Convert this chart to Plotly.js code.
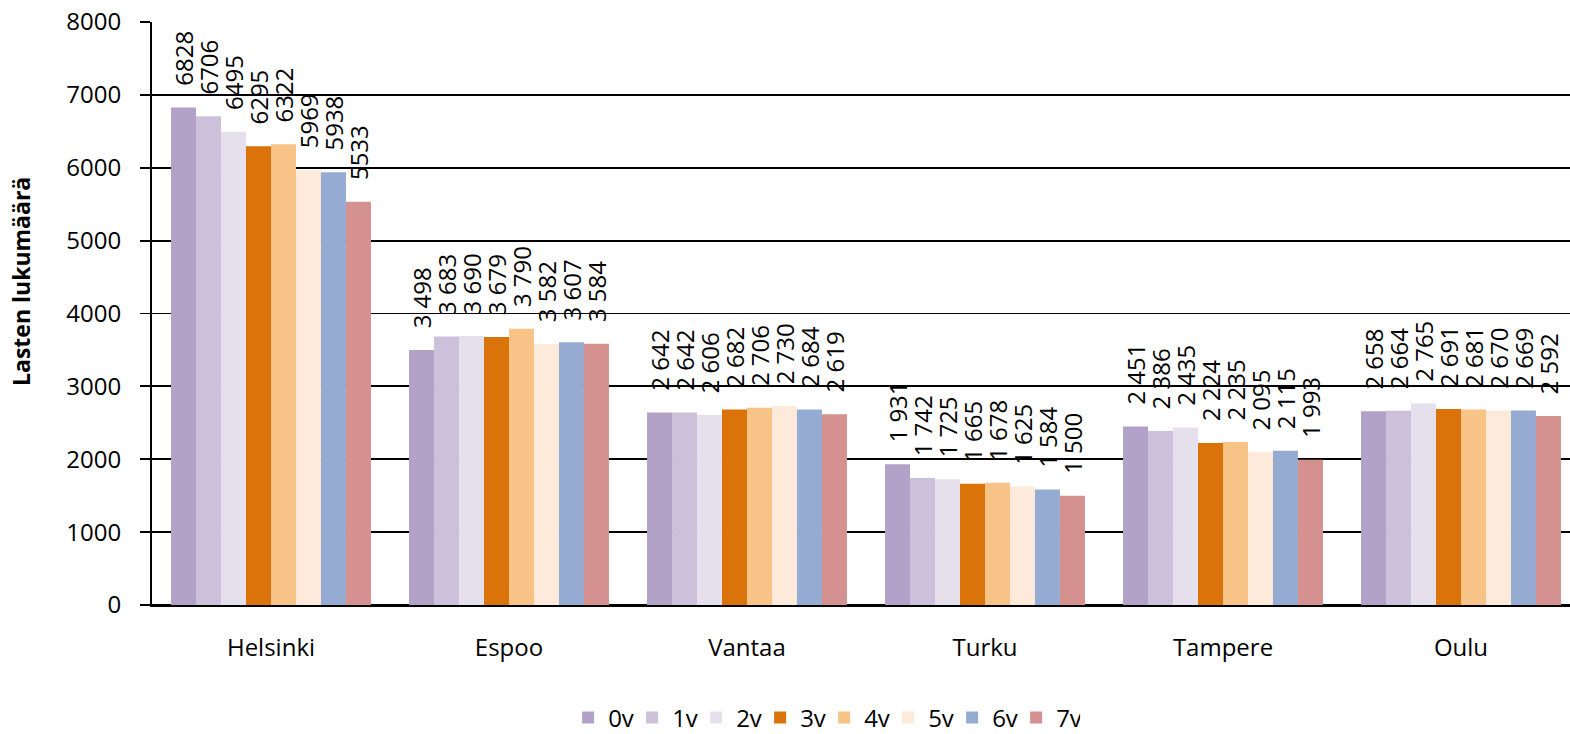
<!DOCTYPE html>
<html>
<head>
<meta charset="utf-8">
<script src="https://cdn.plot.ly/plotly-3.0.1.min.js"></script>
<style>html,body{margin:0;padding:0;background:#fff;}#chart{width:1570px;height:734px;}</style>
</head>
<body>
<div id="chart"></div>
<script>
const cities = ["Helsinki", "Espoo", "Vantaa", "Turku", "Tampere", "Oulu"];
const seriesNames = ["0v", "1v", "2v", "3v", "4v", "5v", "6v", "7v"];
const v0 = [6828, 3498, 2642, 1931, 2451, 2658];
const v1 = [6706, 3683, 2642, 1742, 2386, 2664];
const v2 = [6495, 3690, 2606, 1725, 2435, 2765];
const v3 = [6295, 3679, 2682, 1665, 2224, 2691];
const v4 = [6322, 3790, 2706, 1678, 2235, 2681];
const v5 = [5969, 3582, 2730, 1625, 2095, 2670];
const v6 = [5938, 3607, 2684, 1584, 2115, 2669];
const v7 = [5533, 3584, 2619, 1500, 1993, 2592];
const yTicks = [0, 1000, 2000, 3000, 4000, 5000, 6000, 7000, 8000];
const yTitle = "Lasten lukumäärä";
const colors = ["#B3A2C7", "#CCC1DA", "#E5E0EC", "#D9730A", "#F8C387", "#FDEADA", "#95ABD1", "#D49190"];

const FONT = "'Open Sans', 'Noto Sans', sans-serif";
const allValues = [v0, v1, v2, v3, v4, v5, v6, v7];
// Helsinki labels shown without thousands separator, others with a space
function fmt(v, cityIdx) {
  const s = String(v);
  const body = (cityIdx === 0 || s.length <= 3) ? s : s.slice(0, s.length - 3) + " " + s.slice(-3);
  return "\u00A0\u00A0\u00A0" + body;
}
const traces = allValues.map((vals, i) => ({
  type: "bar",
  name: seriesNames[i],
  x: cities,
  y: vals,
  text: vals.map((v, j) => fmt(v, j)),
  textposition: "outside",
  textangle: -90,
  constraintext: "none",
  cliponaxis: false,
  textfont: {family: FONT, size: 24, color: "#000"},
  marker: {color: colors[i], line: {width: 0}},
  hoverinfo: "none"
}));

const layout = {
  width: 1570, height: 734,
  margin: {l: 152, r: 0, t: 22, b: 129},
  paper_bgcolor: "#fff", plot_bgcolor: "#fff",
  font: {family: FONT, size: 24, color: "#000"},
  barmode: "group",
  bargap: 0.16,
  bargroupgap: 0,
  showlegend: true,
  legend: {
    orientation: "h", x: 0.474, xanchor: "center",
    yref: "container", y: 0.022, yanchor: "middle",
    font: {family: FONT, size: 24, color: "#000"},
    traceorder: "normal",
    entrywidth: 19, entrywidthmode: "pixels"
  },
  xaxis: {
    type: "category",
    range: [-0.5, 5.458],
    showline: true, linecolor: "#000", linewidth: 2,
    ticks: "", showgrid: false,
    ticklabelstandoff: 20,
    tickfont: {family: FONT, size: 24}
  },
  yaxis: {
    range: [0, 8000],
    tickvals: yTicks,
    ticktext: yTicks.map(String),
    showgrid: true, gridcolor: "#000", gridwidth: 1.8,
    zeroline: true, zerolinecolor: "#000", zerolinewidth: 2,
    showline: true, linecolor: "#000", linewidth: 2,
    ticks: "outside", ticklen: 10, tickcolor: "#000", tickwidth: 1.8,
    ticklabelstandoff: 14,
    tickfont: {family: FONT, size: 24}
  },
  annotations: [{
    text: "<b>" + yTitle + "</b>",
    xref: "paper", yref: "paper",
    x: -0.092, y: 0.555,
    xanchor: "center", yanchor: "middle",
    textangle: -90, showarrow: false,
    font: {family: FONT, size: 23, color: "#000"}
  }]
};

Plotly.newPlot("chart", traces, layout, {displayModeBar: false, staticPlot: true});
</script>
</body>
</html>
